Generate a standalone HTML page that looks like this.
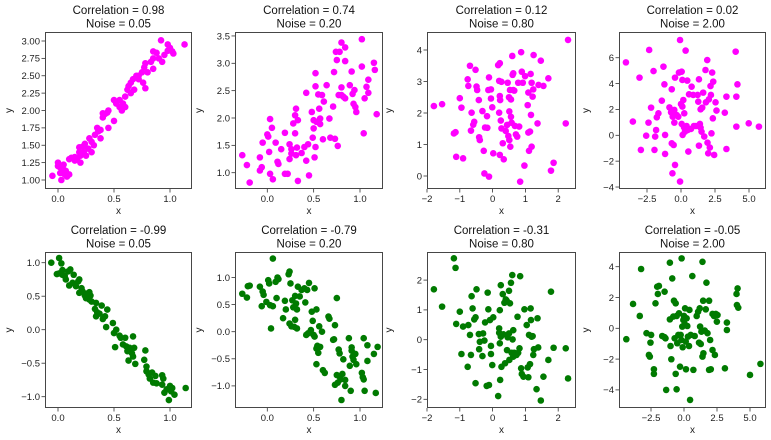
<!DOCTYPE html>
<html><head><meta charset="utf-8"><style>
body{margin:0;background:#fff;}
svg{display:block;font-family:"Liberation Sans",sans-serif;}
</style></head><body>
<svg id="fig" width="771" height="440" viewBox="0 0 771 440" xmlns="http://www.w3.org/2000/svg"></svg>
<script>
// ---- data ----
const p1Points=[[-0.05,1.06],[0,1.25],[0,1.2],[0.02,1.1],[0.03,1.0],[0.05,1.22],[0.05,1.15],[0.07,1.13],[0.08,1.05],[0.1,1.08],[0.1,1.3],[0.12,1.32],[0.15,1.33],[0.17,1.3],[0.19,1.4],[0.19,1.47],[0.2,1.25],[0.22,1.48],[0.23,1.4],[0.25,1.35],[0.27,1.45],[0.28,1.6],[0.3,1.55],[0.3,1.4],[0.33,1.65],[0.35,1.75],[0.36,1.7],[0.38,1.6],[0.38,1.72],[0.4,1.9],[0.42,1.95],[0.44,1.97],[0.45,1.75],[0.5,1.85],[0.5,2.15],[0.52,2.1],[0.55,2.05],[0.57,2.0],[0.58,2.1],[0.6,2.05],[0.62,2.3],[0.63,2.35],[0.65,2.4],[0.65,2.25],[0.67,2.45],[0.68,2.3],[0.7,2.5],[0.72,2.5],[0.75,2.55],[0.76,2.4],[0.77,2.62],[0.78,2.68],[0.78,2.32],[0.8,2.55],[0.83,2.7],[0.85,2.6],[0.85,2.85],[0.88,2.83],[0.9,2.75],[0.92,3.01],[0.93,2.7],[0.95,2.8],[0.98,2.95],[1.0,2.9],[1.02,2.85],[1.03,2.82],[1.13,2.95],[0.6,2.2],[0.32,1.5],[0.2,1.35],[0.15,1.28],[0.72,2.45],[0.98,2.86],[0.45,2.0],[0.02,1.18],[0.06,1.08],[0.85,2.75],[0.55,2.15],[0.24,1.52],[0.4,1.96]];
const p2Points=[[-0.27,1.32],[-0.22,1.14],[-0.19,0.82],[-0.08,1.28],[-0.08,1.04],[-0.05,1.55],[-0.06,1.1],[0,1.7],[0.01,1.66],[0.03,1.98],[0.02,1.38],[0.03,0.98],[0.05,1.82],[0.06,0.88],[0.09,1.55],[0.11,1.2],[0.12,1.16],[0.15,1.43],[0.19,1.73],[0.19,0.98],[0.22,0.98],[0.24,1.52],[0.24,1.25],[0.26,1.43],[0.26,1.35],[0.28,1.9],[0.3,2.05],[0.31,2.17],[0.3,1.72],[0.31,1.32],[0.32,1.46],[0.33,1.96],[0.33,0.85],[0.37,1.36],[0.4,1.47],[0.42,1.22],[0.42,2.46],[0.44,1.52],[0.45,0.95],[0.48,2.11],[0.49,1.64],[0.5,1.96],[0.5,1.81],[0.51,1.28],[0.52,1.47],[0.52,2.82],[0.52,2.58],[0.53,1.93],[0.55,2.43],[0.56,2.17],[0.57,1.99],[0.57,1.89],[0.59,2.42],[0.6,1.61],[0.61,2.3],[0.64,2.6],[0.67,1.99],[0.68,1.64],[0.71,2.21],[0.72,2.84],[0.73,1.62],[0.75,3.06],[0.74,3.21],[0.76,1.49],[0.77,2.42],[0.78,3.21],[0.8,2.42],[0.8,2.56],[0.8,3.38],[0.82,2.39],[0.84,2.36],[0.84,3.04],[0.84,3.29],[0.89,2.6],[0.91,2.85],[0.92,2.44],[0.93,2.26],[0.94,2.51],[0.95,2.2],[0.96,2.11],[1.02,3.44],[1.02,2.94],[1.04,1.72],[1.05,2.36],[1.07,2.57],[1.09,2.7],[1.09,2.46],[1.15,3.01],[1.16,2.88],[1.18,2.07]];
const p3Points=[[-1.79,2.22],[-1.54,2.28],[-1.18,1.35],[-1.13,1.39],[-1.11,0.61],[-1.0,2.47],[-0.95,2.17],[-0.9,0.56],[-0.76,3.07],[-0.74,2.86],[-0.69,3.5],[-0.66,1.44],[-0.64,2.01],[-0.59,1.63],[-0.56,1.72],[-0.52,3.37],[-0.49,2.84],[-0.47,2.73],[-0.42,2.41],[-0.41,1.23],[-0.39,1.14],[-0.31,2.06],[-0.27,0.8],[-0.25,0.08],[-0.23,1.54],[-0.17,1.9],[-0.16,1.53],[-0.13,2.73],[-0.11,3.13],[-0.11,-0.02],[-0.05,2.75],[-0.05,2.46],[-0.01,2.18],[0.02,0.72],[0.17,3.52],[0.22,3.58],[0.2,3.02],[0.2,2.01],[0.22,2.54],[0.23,2.41],[0.22,0.67],[0.25,1.76],[0.27,2.99],[0.27,1.51],[0.31,1.04],[0.34,0.53],[0.4,1.43],[0.44,1.62],[0.46,2.96],[0.48,1.27],[0.5,2.5],[0.51,2.05],[0.51,1.14],[0.53,2.73],[0.54,0.93],[0.56,1.88],[0.56,2.43],[0.58,1.69],[0.6,3.81],[0.61,3.21],[0.63,3.26],[0.63,2.73],[0.66,2.71],[0.68,1.59],[0.71,1.32],[0.75,1.25],[0.78,2.96],[0.81,1.57],[0.84,-0.18],[0.87,3.93],[0.89,3.31],[0.92,2.96],[0.97,0.33],[0.99,3.17],[1.07,2.25],[1.09,2.65],[1.09,1.38],[1.11,0.8],[1.14,1.41],[1.16,3.24],[1.17,1.94],[1.19,0.93],[1.19,2.96],[1.22,2.52],[1.24,2.75],[1.25,3.84],[1.37,1.67],[1.4,2.89],[1.47,3.66],[1.55,2.86],[1.7,3.1],[1.78,0.17],[1.86,0.42],[2.23,1.67],[2.3,4.32]];
const p4Points=[[-4.05,5.64],[-3.54,1.06],[-3.05,4.46],[-2.95,-1.13],[-2.56,-0.03],[-2.39,0.98],[-2.34,6.6],[-2.2,2.14],[-2.02,4.97],[-1.95,-1.13],[-1.9,-0.1],[-1.83,0.41],[-1.78,1.39],[-1.66,1.7],[-1.41,2.68],[-1.29,5.31],[-1.22,3.94],[-1.17,0.03],[-1.17,-1.44],[-0.85,2.16],[-0.73,1.78],[-0.68,3.56],[-0.68,-0.62],[-0.63,-2.94],[-0.61,1.44],[-0.54,-0.75],[-0.49,0.98],[-0.49,1.96],[-0.44,4.46],[-0.44,-2.29],[-0.39,1.57],[-0.32,1.57],[-0.2,1.44],[-0.15,4.85],[-0.07,7.37],[-0.07,-3.58],[0,2.42],[0.05,4.92],[0.05,0.88],[0.1,4.28],[0.1,2.22],[0.12,0.03],[0.17,2.73],[0.22,0.62],[0.24,1.7],[0.29,0.28],[0.34,6.55],[0.41,0.72],[0.46,4.23],[0.49,0.41],[0.54,-1.26],[0.59,3.17],[0.73,0.49],[0.78,3.76],[0.9,3.12],[0.95,0.72],[1.1,0.72],[1.22,3.12],[1.27,2.6],[1.32,4.33],[1.32,-0.8],[1.39,0.88],[1.44,0.59],[1.44,2.01],[1.51,0.28],[1.56,2.14],[1.63,3.3],[1.71,-0.1],[1.8,5.05],[1.83,2.55],[1.93,5.82],[1.95,-0.57],[2.0,-1.39],[2.05,2.78],[2.12,-0.95],[2.17,3.81],[2.2,3.12],[2.24,0.15],[2.29,4.85],[2.34,1.31],[2.37,4.15],[2.44,-1.52],[2.54,2.55],[2.61,1.91],[3.22,1.75],[3.34,2.99],[3.34,-1.06],[4.07,2.99],[4.02,6.47],[4.07,0.67],[4.15,3.94],[4.98,0.93],[5.73,0.67]];
const p5Points=[[-0.06,1.0],[-0.01,0.83],[0.01,1.07],[0.01,0.84],[0.03,0.99],[0.04,0.82],[0.04,0.89],[0.06,0.8],[0.07,0.75],[0.09,0.87],[0.1,0.66],[0.11,0.9],[0.13,0.7],[0.14,0.82],[0.16,0.65],[0.18,0.72],[0.19,0.75],[0.19,0.55],[0.21,0.62],[0.22,0.57],[0.24,0.51],[0.25,0.47],[0.26,0.54],[0.28,0.56],[0.28,0.45],[0.29,0.51],[0.3,0.42],[0.33,0.31],[0.34,0.4],[0.34,0.2],[0.35,0.26],[0.37,0.24],[0.39,0.36],[0.4,0.16],[0.42,0.2],[0.43,0.04],[0.44,0.3],[0.49,0.1],[0.5,-0.05],[0.51,-0.26],[0.52,0.0],[0.55,-0.09],[0.56,-0.12],[0.58,-0.22],[0.6,-0.12],[0.61,-0.25],[0.62,-0.32],[0.63,-0.46],[0.64,-0.27],[0.66,-0.35],[0.67,-0.1],[0.67,-0.4],[0.68,-0.27],[0.69,-0.51],[0.77,-0.45],[0.78,-0.31],[0.79,-0.55],[0.79,-0.62],[0.81,-0.67],[0.82,-0.73],[0.84,-0.64],[0.85,-0.79],[0.87,-0.69],[0.88,-0.8],[0.93,-0.82],[0.93,-0.68],[0.94,-0.73],[0.95,-0.94],[0.97,-0.89],[0.99,-1.05],[1.0,-0.84],[1.01,-0.92],[1.02,-0.87],[1.04,-0.97],[1.14,-0.87]];
const p6Points=[[-0.27,0.7],[-0.22,0.63],[-0.21,0.84],[-0.19,0.85],[-0.08,0.83],[-0.06,0.47],[-0.05,0.74],[-0.04,0.68],[-0.01,0.55],[0.01,0.95],[0.02,0.89],[0.03,0.49],[0.04,0.06],[0.06,0.47],[0.06,1.35],[0.09,0.92],[0.1,0.62],[0.11,1.0],[0.12,0.97],[0.17,0.25],[0.19,0.57],[0.2,0.41],[0.23,1.06],[0.24,1.11],[0.24,0.15],[0.25,0.89],[0.26,0.1],[0.27,0.58],[0.28,0.45],[0.29,0.09],[0.3,0.66],[0.3,0.22],[0.31,0.52],[0.32,0.41],[0.32,0.06],[0.33,0.83],[0.35,0.65],[0.37,0.77],[0.4,0.8],[0.41,0.54],[0.42,-0.06],[0.43,0.77],[0.44,-0.03],[0.45,0.9],[0.47,0.03],[0.48,0.37],[0.49,0.2],[0.5,-0.06],[0.51,-0.09],[0.51,0.8],[0.53,0.41],[0.53,-0.31],[0.53,-0.6],[0.54,-0.26],[0.55,-0.39],[0.56,0.1],[0.57,-0.28],[0.59,0.0],[0.6,-0.71],[0.62,-0.76],[0.66,0.28],[0.67,0.24],[0.71,-0.15],[0.72,-0.14],[0.73,0.12],[0.75,0.62],[0.73,-0.98],[0.75,-0.8],[0.76,-0.94],[0.77,-0.33],[0.78,-0.83],[0.78,-0.4],[0.79,-0.88],[0.8,-1.26],[0.81,-0.78],[0.82,-0.51],[0.84,-1.0],[0.84,-0.89],[0.88,-0.12],[0.89,-0.63],[0.9,-1.09],[0.91,-0.35],[0.91,-0.29],[0.92,-0.46],[0.93,-0.52],[0.95,-0.41],[0.96,-0.6],[1.02,-0.76],[1.03,-0.84],[1.04,-0.12],[1.04,-0.88],[1.05,-1.09],[1.08,-0.54],[1.08,-0.25],[1.15,-0.41],[1.17,-1.13],[1.19,-0.28]];
const p7Points=[[-1.79,1.69],[-1.54,1.11],[-1.18,2.73],[-1.13,2.41],[-1.11,0.53],[-1.0,0.94],[-0.95,-0.48],[-0.9,0.44],[-0.76,-0.91],[-0.74,0.49],[-0.69,0.16],[-0.66,-0.51],[-0.64,1.46],[-0.61,1.05],[-0.56,0.68],[-0.52,0.75],[-0.52,-1.46],[-0.49,1.69],[-0.42,0.19],[-0.41,-0.32],[-0.39,-0.07],[-0.31,-0.55],[-0.29,0.21],[-0.25,-0.03],[-0.23,0.58],[-0.18,-1.55],[-0.15,1.58],[-0.13,1.02],[-0.11,-1.52],[-0.08,0.66],[-0.05,-0.21],[-0.05,-0.48],[-0.01,-0.85],[0.02,0.75],[0.17,-1.89],[0.2,0.38],[0.2,0.23],[0.22,-0.12],[0.22,0.99],[0.23,-1.35],[0.25,1.83],[0.25,0.1],[0.27,-0.91],[0.31,1.53],[0.33,0.18],[0.36,1.24],[0.38,-0.79],[0.4,1.35],[0.43,1.31],[0.44,-0.35],[0.46,0.08],[0.5,1.64],[0.5,0.21],[0.51,-0.68],[0.53,1.22],[0.56,1.91],[0.58,-0.44],[0.6,2.17],[0.61,0.01],[0.63,0.32],[0.63,-0.57],[0.66,-0.44],[0.68,-0.46],[0.73,-0.51],[0.76,0.77],[0.78,-0.44],[0.82,-0.29],[0.84,2.13],[0.87,-0.96],[0.89,-1.15],[0.94,-1.24],[0.97,1.02],[1.04,0.49],[1.07,-0.93],[1.09,-1.26],[1.11,0.16],[1.14,-0.82],[1.16,1.05],[1.17,0.66],[1.19,0.1],[1.22,0.12],[1.24,-0.51],[1.26,-0.32],[1.34,-1.66],[1.37,0.72],[1.39,-0.26],[1.47,-2.04],[1.55,-1.24],[1.7,-0.68],[1.78,1.61],[1.86,-0.27],[2.23,-0.29],[2.3,-1.3]];
const p8Points=[[-4.37,-0.71],[-3.86,1.58],[-3.35,0.8],[-3.25,3.85],[-2.84,-0.32],[-2.54,-0.93],[-2.49,-0.43],[-2.66,-1.73],[-2.59,-1.84],[-2.28,-2.66],[-2.28,-2.96],[-2.16,1.62],[-2.03,2.7],[-1.98,2.23],[-1.9,2.75],[-1.47,2.38],[-1.65,-0.5],[-1.47,-0.58],[-1.4,-0.65],[-1.35,-4.0],[-1.07,4.26],[-1.07,0.58],[-1.02,-1.15],[-0.96,-2.01],[-0.89,3.24],[-0.81,0.76],[-0.76,1.79],[-0.71,-0.65],[-0.63,1.62],[-0.63,-2.96],[-0.56,-3.96],[-0.56,0.8],[-0.51,-0.97],[-0.43,-0.43],[-0.38,0.97],[-0.3,-2.49],[-0.25,-0.43],[-0.2,-0.76],[-0.18,4.54],[-0.13,0.11],[-0.1,-1.23],[-0.05,0.54],[0,0.8],[0.05,0.28],[0.08,1.3],[0.13,-0.86],[0.15,-2.66],[0.2,0.65],[0.25,0.15],[0.3,-0.54],[0.38,-1.15],[0.41,1.19],[0.46,-4.65],[0.51,-0.43],[0.63,3.39],[0.71,-2.7],[0.81,-0.5],[0.96,0.8],[1.07,1.08],[1.14,-0.93],[1.19,1.3],[1.22,0.11],[1.27,-1.02],[1.32,-0.22],[1.4,4.32],[1.4,-1.84],[1.45,1.79],[1.47,-1.62],[1.57,-0.15],[1.65,1.23],[1.7,2.96],[1.78,-0.32],[1.9,1.79],[1.9,-2.7],[1.98,-0.76],[2.03,-2.66],[2.16,0.93],[2.16,-1.41],[2.28,0.8],[2.34,-1.73],[2.41,0.93],[2.49,0.43],[2.54,0.86],[3.1,-2.6],[3.25,0.37],[3.25,-0.11],[3.98,2.23],[4.06,2.59],[4.01,1.51],[4.11,1.34],[5.0,-3.03],[5.79,-2.31]];
const correlationLabels=["0.98","0.74","0.12","0.02","-0.99","-0.79","-0.31","-0.05"];
const noiseLabels=["0.05","0.20","0.80","2.00","0.05","0.20","0.80","2.00"];
const xTicksA=[0,0.5,1.0], xTicksB=[-2,-1,0,1,2], xTicksC=[-2.5,0,2.5,5.0];
const yTicks1=[1.0,1.25,1.5,1.75,2.0,2.25,2.5,2.75,3.0];
const yTicks2=[1.0,1.5,2.0,2.5,3.0,3.5];
const yTicks3=[0,1,2,3,4];
const yTicks4=[-4,-2,0,2,4,6];
const yTicks5=[-1.0,-0.5,0,0.5,1.0];
const yTicks6=[-1.0,-0.5,0,0.5,1.0];
const yTicks7=[-2,-1,0,1,2];
const yTicks8=[-4,-2,0,2,4];

// ---- layout (pixel geometry, not data) ----
const cols=[[45,192],[235,383],[427,576],[619,766]];
const rows=[[32,189],[252,408]];
const xCal=[[58,0,112],[267.3,0,92.7],[492.6,0,32.8],[681,0,13.6],[58,0,112],[267.3,0,92.7],[492.6,0,32.8],[684,0,13.2]];
const yCal=[[180,1,69.5],[172.7,1,54.7],[176,0,31.5],[135.3,0,12.93],[329.7,0,67],[331.7,0,54.2],[339.7,0,29.8],[328.3,0,15.4]];
const pointsAll=[p1Points,p2Points,p3Points,p4Points,p5Points,p6Points,p7Points,p8Points];
const xTicksAll=[xTicksA,xTicksA,xTicksB,xTicksC,xTicksA,xTicksA,xTicksB,xTicksC];
const yTicksAll=[yTicks1,yTicks2,yTicks3,yTicks4,yTicks5,yTicks6,yTicks7,yTicks8];
const xFmt=[1,1,0,1,1,1,0,1];
const yFmt=[2,1,0,0,1,1,0,0];

const NS="http://www.w3.org/2000/svg";
const svg=document.getElementById('fig');
function mk(tag,attrs,parent){const e=document.createElementNS(NS,tag);for(const k in attrs)e.setAttribute(k,attrs[k]);parent.appendChild(e);return e;}
function fmt(v,d){const s=Math.abs(v).toFixed(d);return (v<0?"\u2212":"")+s;}

for(let i=0;i<8;i++){
  const c=cols[i%4], r=rows[Math.floor(i/4)];
  const sx=v=>xCal[i][0]+(v-xCal[i][1])*xCal[i][2];
  const sy=v=>yCal[i][0]-(v-yCal[i][1])*yCal[i][2];
  const g=mk('g',{},svg);
  
  
  const cx=(c[0]+c[1])/2;
  const t1=mk('text',{x:cx,y:r[0]-18,'text-anchor':'middle','font-size':'11.5',fill:'#111'},g);
  t1.textContent='Correlation = '+correlationLabels[i];
  
  
  const t2=mk('text',{x:cx,y:r[0]-4.5,'text-anchor':'middle','font-size':'11.5',fill:'#111'},g);
  t2.textContent='Noise = '+noiseLabels[i];
  
  
  const clipId='clip'+i;
  const cp=mk('clipPath',{id:clipId},g);
  mk('rect',{x:c[0],y:r[0],width:c[1]-c[0],height:r[1]-r[0]},cp);
  const pts=mk('g',{'clip-path':'url(#'+clipId+')'},g);
  
  
  const col=i<4?'#ff00ff':'#007a00';
  for(const p of pointsAll[i]){
    const d=mk('circle',{cx:sx(p[0]),cy:sy(p[1]),r:3.3,fill:col},pts);
    
    
  }
  const fr=mk('rect',{x:c[0]+0.5,y:r[0]+0.5,width:c[1]-c[0]-1,height:r[1]-r[0]-1,fill:'none',stroke:'#333','stroke-width':'0.9'},g);
  
  
  for(const v of xTicksAll[i]){
    const x=sx(v);
    mk('line',{x1:x,x2:x,y1:r[1],y2:r[1]+3.5,stroke:'#333','stroke-width':'0.8'},g);
    const tl=mk('text',{x:x,y:r[1]+13,'text-anchor':'middle','font-size':'9.5',fill:'#222'},g);
    tl.textContent=fmt(v,xFmt[i]);
    
    
  }
  for(const v of yTicksAll[i]){
    const y=sy(v);
    mk('line',{x1:c[0]-3.5,x2:c[0],y1:y,y2:y,stroke:'#333','stroke-width':'0.8'},g);
    const tl=mk('text',{x:c[0]-5,y:y+3.3,'text-anchor':'end','font-size':'9.5',fill:'#222'},g);
    tl.textContent=fmt(v,yFmt[i]);
    
    
  }
  const xl=mk('text',{x:cx,y:r[1]+25,'text-anchor':'middle','font-size':'10',fill:'#222'},g);
  xl.textContent='x';
  
  
  const yx=[12,202,392,589][i%4], ymid=(r[0]+r[1])/2;
  const yl=mk('text',{x:yx,y:ymid,'text-anchor':'middle','font-size':'10',fill:'#222',transform:'rotate(-90 '+yx+' '+ymid+')'},g);
  yl.textContent='y';
  
  
}
</script>
</body></html>
